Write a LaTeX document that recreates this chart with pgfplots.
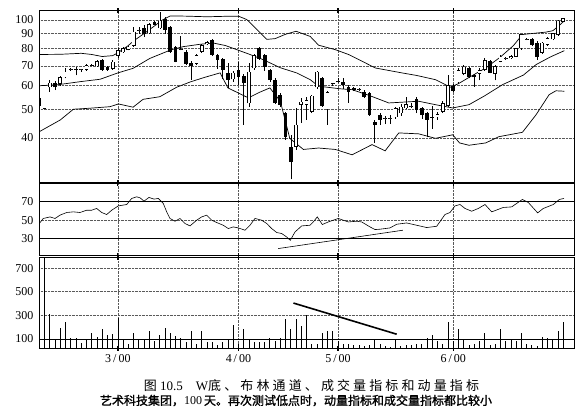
\documentclass[border=0pt]{standalone}
\usepackage{fontspec}
\setmainfont{Liberation Serif}
\newfontfamily\cjk[LetterSpace=24]{Noto Sans CJK SC}
\newfontfamily\cjkb[FakeBold=1.5]{Noto Sans CJK SC}
\usepackage{pgfplots}
\usepackage{pgfplotstable}
\pgfplotsset{compat=1.18}

% daily candles: day, open, high, low, close
\pgfplotstableread{
d o h l c
1 50.2 60.5 50 60
2 59.3 62.8 57.3 61.5
4 60.8 64.5 60 64
5 64 69 63.5 67
6 67.8 69 67.5 68.4
8 67.8 68.6 67 68.3
9 68 71 67.5 70.3
10 69.8 71 69.5 70.5
11 69.8 73.3 69.5 72.6
14 68.4 73.5 68 72.3
15 75.6 80.2 74.6 79.2
16 77.8 80.8 77.5 80.2
17 79.2 82 79 81.3
18 81.9 94.5 81.2 91.3
19 92 95 90 92.8
21 90.2 98 89.5 96.9
23 93.8 106.7 93 99.5
27 79.3 88 79 80
30 71.3 77 70.5 76.2
31 78.2 83 77.5 82.3
32 83.2 85 82.5 84.2
37 63.1 67.5 62 66.5
40 52.3 71.5 51 67
41 68.7 77 68 76.2
49 37.4 50.5 36.5 44.3
50 51.7 54.5 45 53
51 51.7 55 46 53.7
52 49.1 56 48.5 55.5
53 59.2 67.5 58.5 67
55 50 57.5 44.3 57
56 60.6 61.5 59.8 61.2
57 61.6 63.5 61.2 62.2
61 58.2 59 57.8 58.6
66 46.4 47.5 44.5 46.8
67 46.4 47.8 44.5 46.8
68 47.0 51 46.5 50.5
69 48.5 52 47.5 51
70 50.4 55 50 52
71 51 52.5 50.5 51.4
75 46.8 51.3 43 47.2
76 47 49 46 48.2
77 49.1 53.5 48.5 52.4
78 51.3 65 51 60.4
80 61.6 69 61 67.8
81 65.7 70.5 65 69.6
84 65.7 69 62.5 67.8
85 67.8 74.5 67.5 73.3
87 65.7 70.5 62.5 69.9
88 72.3 76 72 75.2
89 73.9 75 73.5 74.5
90 74.2 76 74 75.5
91 75.2 80.5 75 80.2
92 80.2 90 79.5 89.5
93 85.8 87 85.5 86.3
96 77.6 84.5 77 83.8
97 82.3 87.5 82 86.7
98 86 90.5 85.5 90.2
99 89 100 88.5 99.5
100 98.7 101.8 98.5 101.3
}\upc

\pgfplotstableread{
d o h l c
0 54.7 56 50.5 51.3
3 61.2 62.2 58 59.3
7 68.5 69.3 65 68
12 73.3 73.8 67.5 68
13 69.3 70 67.5 67.8
20 94.2 96 87.6 89.5
22 98.2 99 96 96.2
24 100.5 102 90 92.5
25 94.9 95.5 77.5 78.2
26 81.3 82 72 72.3
28 78.2 79 70.5 71.3
29 71.7 72.5 62.8 69.9
33 85.6 86.5 75.5 76.2
34 76.2 77 68.5 73.3
35 73.7 74.5 63 67.8
36 66.2 71.4 58.8 62.8
38 67.8 72.3 60.4 64.4
39 64.7 65.5 44.3 61.2
42 80.2 81 73.5 74
43 76.2 77 67.5 69.5
44 67.8 68.5 62 62.8
45 62.8 63.5 52 52.4
46 55.9 56.5 51 51.7
47 48.5 49 39.5 40.4
48 37.4 41 29 33.3
54 63.5 64 51 51.3
58 61.8 63.8 58.4 60.4
59 59.3 60.4 52.6 57.2
60 59 59.6 57.5 58.1
62 57.2 58 54.5 55.1
63 56.5 57 47.5 47.8
64 45.4 46 38.5 44.3
65 47.8 48.5 44.3 46.1
72 54 55 48.5 49.7
73 50.4 51 46.5 47.8
74 48.5 49 40.2 46
79 60 61 57 57.6
82 69 69.6 63.5 64
83 65.2 65.6 59.6 64
86 72.7 73.5 66 66.5
94 86 86.6 81.5 82.3
95 83.4 85 73.5 75.2
}\dnc

\pgfplotstableread{
d v
0 100
1 787
2 310
3 100
4 190
5 247
6 110
7 105
8 65
9 95
10 148
11 115
12 180
13 130
14 140
15 276
16 90
17 60
18 150
19 95
20 100
21 170
22 80
23 130
24 190
25 150
26 125
27 110
28 70
29 165
30 60
31 170
32 75
33 70
34 45
35 70
36 90
37 220
38 60
39 185
40 100
41 70
42 70
43 70
44 110
45 85
46 110
47 270
48 180
49 270
50 213
51 304
52 60
53 60
54 148
55 165
56 165
57 80
58 60
59 60
60 50
61 50
62 40
63 50
64 100
65 60
66 40
67 30
68 95
69 40
70 50
71 50
72 60
73 60
74 110
75 134
76 80
77 60
78 247
79 80
80 185
81 90
82 50
83 60
84 80
85 148
86 50
87 60
88 185
89 80
90 90
91 80
92 148
93 60
94 50
95 40
96 120
97 110
98 100
99 165
100 247
}\vol

\pgfplotsset{
  panel/.style={
    scale only axis, width=535pt, anchor=north west,
    xmin=0, xmax=102.1, xtick={15,38,57,79},
    xmajorgrids, ymajorgrids,
    major grid style={densely dotted, black!65, line width=0.5pt},
    axis line style={line width=1pt},
    xtick style={black, line width=1.2pt},
    ytick style={draw=none},
    major tick length=5pt, tick align=center,
    tick label style={font=\fontsize{12}{12}\selectfont},
    /pgf/number format/assume math mode=true,
  },
  solidgrid/.style={extra y tick style={major grid style={solid, black, line width=0.8pt}}},
  wick/.style={draw=none, mark=none, forget plot, error bars/.cd, y dir=plus, y explicit,
    error mark=none, error bar style={draw=black, line width=0.6pt}},
  body/.style={draw=none, mark=none, forget plot, error bars/.cd, y dir=plus, y explicit,
    error mark=none, error bar style={draw=#1, line width=3.8pt}},
  inner/.style={draw=none, mark=none, forget plot, error bars/.cd, y dir=plus, y explicit,
    error mark=none, error bar style={draw=white, line width=2.3pt}},
}

\begin{document}
\begin{tikzpicture}[x=1pt,y=1pt]
\useasboundingbox (0,0) rectangle (584,-415);

% price with Bollinger bands
\begin{axis}[panel, at={(39.3pt,-11pt)}, height=172pt,
  ymode=log, ymin=28.2, ymax=107.2,
  ytick={40,50,60,70,80,90,100}, log ticks with fixed point,
  xticklabels={}]
\addplot[black, line width=0.7pt] coordinates {
(0,76.5) (4,76.6) (8,77.2) (10,76.5) (12,75.3) (14,75.8) (15,77.5) (17,82)
(18,85) (20,90) (22,95.5) (23.5,100) (25,103.2) (28,103) (32,102.5) (35.8,102.9)
(38,103) (39.6,100.3) (41.5,93) (43.4,86) (45,86.5) (47,89.5) (49,91.6) (51.7,88)
(53.3,82.2) (56.5,79.4) (59,76.5) (61.6,72.6) (64.1,68.9) (69.2,66.3) (72,65)
(75.6,62.9) (77.5,60.5) (78.4,59.3) (80,61) (82,64) (85.2,68.9) (88,75)
(90.5,82) (92.2,89.3) (94,90) (96.7,91) (98,92) (99,95) (100.1,99)};
\addplot[black, line width=0.7pt] coordinates {
(0,60) (3.6,60.5) (8,62) (11.6,63.1) (15,66.3) (17.9,68.7) (21.1,74.2) (25.2,79.4)
(27.5,81.3) (30.7,82.8) (33.2,83.6) (35.5,82) (37.7,79.4) (40.2,76.5) (42.7,73.5)
(46,69) (49.1,66.3) (51.7,62.9) (53.3,59.8) (57.4,58.6) (59.7,58.2) (62.9,55.7)
(66.7,52.5) (72.4,53.2) (75.6,51.8) (78.9,50.5) (82,51.8) (85,55.5) (88.4,60.5)
(92.4,65.2) (94.8,70.7) (97.5,75) (100.2,78.8)};
\addplot[black, line width=0.7pt] coordinates {
(0,42.0) (4,46.0) (6.5,50.0) (9.7,50.4) (13.5,51.0) (15.1,52.1) (17.9,50.8)
(19.8,54.0) (23,55.1) (26.2,59.3) (28.8,61.8) (31.5,64) (34.5,66.3) (36,59)
(39.9,54.6) (42,57) (44,59) (46,53.2) (47.8,39.9) (50.4,36.6) (53.3,37)
(56.5,36.6) (59.7,35.1) (63.5,38) (66,36.2) (68.6,41.6) (72.4,41.3) (75.6,39.9)
(78.9,41) (80.2,38.5) (82,37.8) (85.2,38.5) (87.7,40.4) (92.2,41.8) (94.8,47.9)
(97.3,56) (98.6,57.7) (100.2,57.5)};
% wicks
\addplot[wick] table[x=d, y=l, y error expr=\thisrow{h}-\thisrow{l}] {\upc};
\addplot[wick] table[x=d, y=l, y error expr=\thisrow{h}-\thisrow{l}] {\dnc};
% bodies
\addplot[body=black] table[x=d, y=c, y error expr=\thisrow{o}-\thisrow{c}] {\dnc};
\addplot[body=black] table[x=d, y=o, y error expr=\thisrow{c}-\thisrow{o}] {\upc};
\addplot[inner] table[x=d, y expr=\thisrow{o}*1.005,
  y error expr={max(\thisrow{c}/1.005-\thisrow{o}*1.005,0.001)}] {\upc};
\end{axis}

% momentum
\begin{axis}[panel, solidgrid, at={(39.3pt,-183.5pt)}, height=72.5pt,
  ymin=11, ymax=90, ytick={50}, extra y ticks={30,70},
  xticklabels={}]
\addplot[black, line width=0.6pt] coordinates {
(0,46.4) (0.76,51.9) (2.04,53.6) (3.0,51.9) (3.95,55.5) (5.23,58.4) (6.49,59.1)
(7.77,58.4) (9.05,60.9) (10.0,60.9) (10.95,62.8) (11.91,58.4) (12.86,56.2)
(13.82,60.9) (15.08,65.6) (16.68,67.1) (17.63,73.7) (18.59,75.5) (19.22,74.4)
(19.98,70.8) (20.93,74.8) (21.89,73.0) (22.71,73.7) (23.66,68.3) (24.31,59.1)
(24.94,51.9) (25.9,48.9) (26.85,51.9) (27.81,46.4) (28.76,43.8) (30.04,50.0)
(30.99,53.6) (31.95,55.5) (32.9,50.0) (33.85,47.5) (35.11,44.5) (36.07,40.9)
(37.02,42.7) (37.98,41.6) (39.26,39.1) (40.21,44.5) (41.16,51.9) (42.44,50.0)
(43.4,46.4) (44.35,40.9) (45.31,36.6) (46.26,35.5) (47.21,31.7) (47.9,28.1)
(48.8,37.2) (50.08,43.8) (51.66,44.5) (52.29,48.1) (53.05,53.6) (54.01,45.3)
(55.15,48.1) (57.06,51.9) (58.97,48.1) (60.57,48.9) (61.53,48.1) (63.11,42.7)
(64.07,39.8) (65.02,40.2) (66.93,41.6) (68.21,45.6) (70.11,47.0) (72.02,44.5)
(73.93,42.0) (75.84,43.4) (77.42,56.2) (78.38,58.4) (79.33,65.6) (80.29,67.1)
(81.24,62.8) (82.52,59.8) (83.78,62.8) (85.06,67.1) (86.34,59.1) (88.55,63.9)
(90.15,64.5) (92.18,72.6) (93.32,69.3) (95.11,58.0) (96.18,62.8) (98.09,67.1)
(99.24,72.6) (100.13,73.7)};
\addplot[black, line width=0.6pt] coordinates {(45.6,19.1) (69.4,39.1)};
\end{axis}

% volume
\begin{axis}[panel, solidgrid, at={(39.3pt,-257.5pt)}, height=90.5pt,
  ymin=23, ymax=790, ytick={300,500,700}, extra y ticks={100},
  xticklabels={3\,/\,00,4\,/\,00,5\,/\,00,6\,/\,00}]
\addplot[ycomb, black, line width=0.8pt] table[x=d, y=v] {\vol};
\addplot[black, line width=1.6pt] coordinates {(48.5,404) (68.2,140)};
\end{axis}

\node[inner sep=0pt, font=\fontsize{13}{13}\selectfont] at (311.5,-386)
  {{\cjk 图}\ 10.5\quad W{\cjk 底、布林通道、成交量指标和动量指标}};
\node[inner sep=0pt, font=\fontsize{12}{12}\selectfont] at (296,-400.5)
  {{\cjkb 艺术科技集团，}100\,{\cjkb 天。再次测试低点时，动量指标和成交量指标都比较小}};
\end{tikzpicture}
\end{document}
